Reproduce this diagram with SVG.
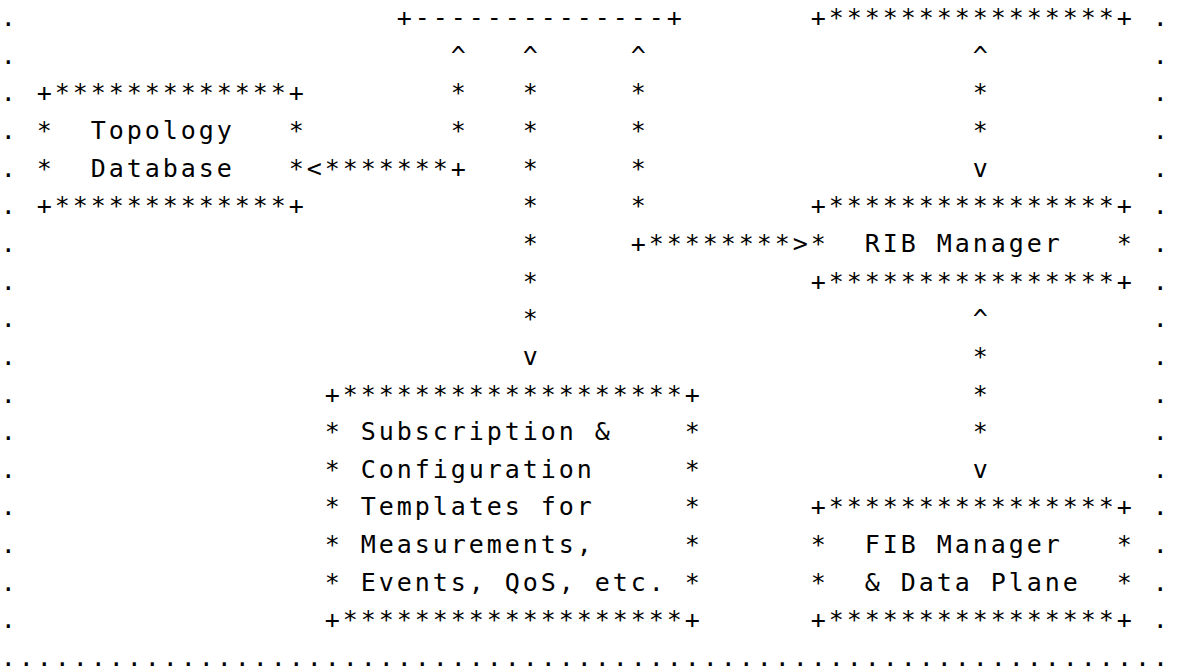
<svg xmlns="http://www.w3.org/2000/svg" width="1180" height="670" viewBox="0 0 1180 670">
<style>
text{font-family:"DejaVu Sans Mono","Liberation Mono",monospace;font-size:25px;letter-spacing:2.95px;white-space:pre;fill:#000}
</style>
<rect width="1180" height="670" fill="#fff"/>
<g id="frame">
<text x="0.8"><tspan y="26">.</tspan><tspan x="0.8" y="63.65">.</tspan><tspan x="0.8" y="101.3">.</tspan><tspan x="0.8" y="138.95">.</tspan><tspan x="0.8" y="176.6">.</tspan><tspan x="0.8" y="214.25">.</tspan><tspan x="0.8" y="251.9">.</tspan><tspan x="0.8" y="289.55">.</tspan><tspan x="0.8" y="327.2">.</tspan><tspan x="0.8" y="364.85">.</tspan><tspan x="0.8" y="402.5">.</tspan><tspan x="0.8" y="440.15">.</tspan><tspan x="0.8" y="477.8">.</tspan><tspan x="0.8" y="515.45">.</tspan><tspan x="0.8" y="553.1">.</tspan><tspan x="0.8" y="590.75">.</tspan><tspan x="0.8" y="628.4">.</tspan></text>
<text x="1152.8"><tspan y="26">.</tspan><tspan x="1152.8" y="63.65">.</tspan><tspan x="1152.8" y="101.3">.</tspan><tspan x="1152.8" y="138.95">.</tspan><tspan x="1152.8" y="176.6">.</tspan><tspan x="1152.8" y="214.25">.</tspan><tspan x="1152.8" y="251.9">.</tspan><tspan x="1152.8" y="289.55">.</tspan><tspan x="1152.8" y="327.2">.</tspan><tspan x="1152.8" y="364.85">.</tspan><tspan x="1152.8" y="402.5">.</tspan><tspan x="1152.8" y="440.15">.</tspan><tspan x="1152.8" y="477.8">.</tspan><tspan x="1152.8" y="515.45">.</tspan><tspan x="1152.8" y="553.1">.</tspan><tspan x="1152.8" y="590.75">.</tspan><tspan x="1152.8" y="628.4">.</tspan></text>
<text x="0.8" y="666">.................................................................</text>
</g>
<g id="upper-left-box">
<text x="396.8" y="26">+--------------+</text>
</g>
<g id="upper-right-box">
<text x="810.8" y="26">+****************+</text>
</g>
<g id="topology-database">
<text x="36.8" y="101.3">+*************+</text>
<text x="36.8" y="138.95">*  Topology   *</text>
<text x="36.8" y="176.6">*  Database   *</text>
<text x="36.8" y="214.25">+*************+</text>
</g>
<g id="rib-manager">
<text x="810.8" y="214.25">+****************+</text>
<text x="810.8" y="251.9">*  RIB Manager   *</text>
<text x="810.8" y="289.55">+****************+</text>
</g>
<g id="subscription-templates">
<text x="324.8" y="402.5">+*******************+</text>
<text x="324.8" y="440.15">* Subscription &amp;    *</text>
<text x="324.8" y="477.8">* Configuration     *</text>
<text x="324.8" y="515.45">* Templates for     *</text>
<text x="324.8" y="553.1">* Measurements,     *</text>
<text x="324.8" y="590.75">* Events, QoS, etc. *</text>
<text x="324.8" y="628.4">+*******************+</text>
</g>
<g id="fib-manager">
<text x="810.8" y="515.45">+****************+</text>
<text x="810.8" y="553.1">*  FIB Manager   *</text>
<text x="810.8" y="590.75">*  &amp; Data Plane  *</text>
<text x="810.8" y="628.4">+****************+</text>
</g>
<g id="connectors">
<text x="450.8"><tspan y="63.65">^</tspan><tspan x="450.8" y="101.3">*</tspan><tspan x="450.8" y="138.95">*</tspan></text>
<text x="306.8" y="176.6">&lt;*******+</text>
<text x="522.8"><tspan y="63.65">^</tspan><tspan x="522.8" y="101.3">*</tspan><tspan x="522.8" y="138.95">*</tspan><tspan x="522.8" y="176.6">*</tspan><tspan x="522.8" y="214.25">*</tspan><tspan x="522.8" y="251.9">*</tspan><tspan x="522.8" y="289.55">*</tspan><tspan x="522.8" y="327.2">*</tspan><tspan x="522.8" y="364.85">v</tspan></text>
<text x="630.8"><tspan y="63.65">^</tspan><tspan x="630.8" y="101.3">*</tspan><tspan x="630.8" y="138.95">*</tspan><tspan x="630.8" y="176.6">*</tspan><tspan x="630.8" y="214.25">*</tspan></text>
<text x="630.8" y="251.9">+********&gt;</text>
<text x="972.8"><tspan y="63.65">^</tspan><tspan x="972.8" y="101.3">*</tspan><tspan x="972.8" y="138.95">*</tspan><tspan x="972.8" y="176.6">v</tspan></text>
<text x="972.8"><tspan y="327.2">^</tspan><tspan x="972.8" y="364.85">*</tspan><tspan x="972.8" y="402.5">*</tspan><tspan x="972.8" y="440.15">*</tspan><tspan x="972.8" y="477.8">v</tspan></text>
</g>
</svg>
